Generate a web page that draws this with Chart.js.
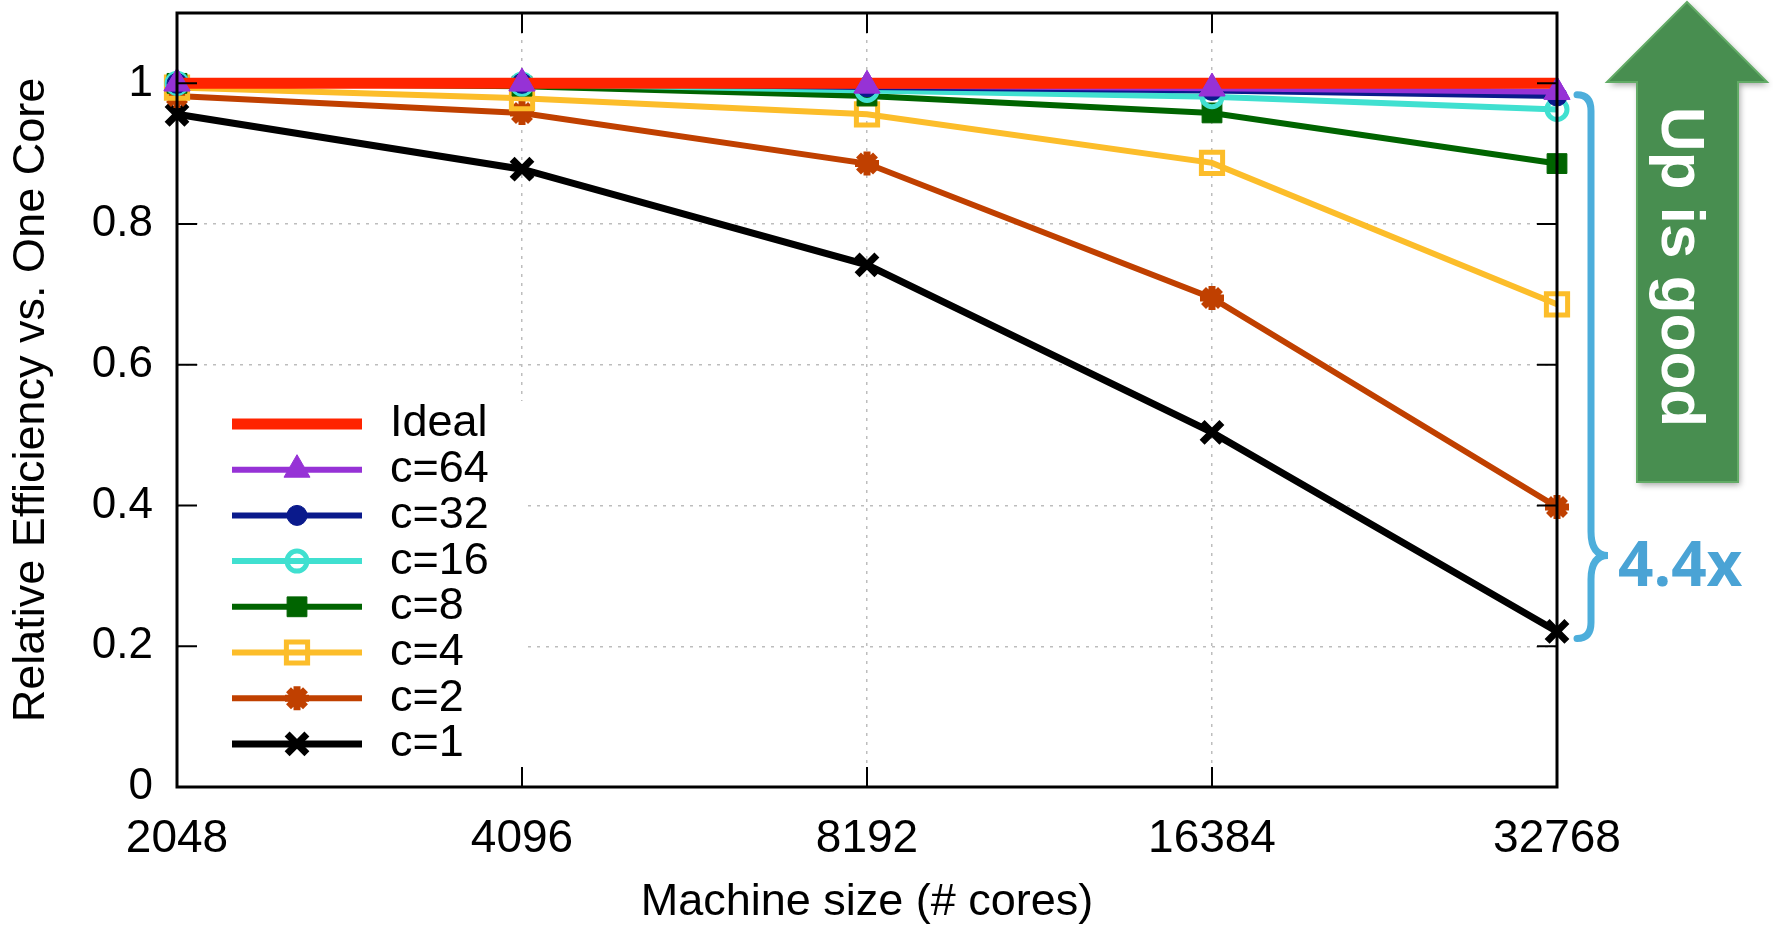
<!DOCTYPE html>
<html lang="en">
<head>
<meta charset="UTF-8">
<title>Relative Efficiency</title>
<script src="https://cdn.jsdelivr.net/npm/chart.js"></script>
<style>
  body { margin: 0; background: #fff; }
  canvas { display: block; }
</style>
</head>
<body>
<canvas id="grafico" width="1773" height="926"></canvas>
<script>
// values
var machineSizes = ['2048', '4096', '8192', '16384', '32768'];
var seriesNames = ['Ideal', 'c=64', 'c=32', 'c=16', 'c=8', 'c=4', 'c=2', 'c=1'];
var ideal = [1, 1, 1, 1, 1];
var c64 = [1, 1, 0.997, 0.993, 0.988];
var c32 = [1, 1, 0.995, 0.99, 0.982];
var c16 = [1, 0.999, 0.99, 0.981, 0.963];
var c8 = [1, 0.996, 0.982, 0.958, 0.886];
var c4 = [0.994, 0.979, 0.956, 0.887, 0.686];
var c2 = [0.982, 0.958, 0.886, 0.695, 0.398];
var c1 = [0.956, 0.878, 0.742, 0.504, 0.221];
var yTicks = [0, 0.2, 0.4, 0.6, 0.8, 1];
var yTickLabels = ['0', '0.2', '0.4', '0.6', '0.8', '1'];

var fonte = '"Liberation Sans", Arial, Helvetica, sans-serif';

function serie(nome, dados, cor, largura, estilo, raio, fundo, borda) {
  return {
    label: nome,
    data: dados,
    borderColor: cor,
    borderWidth: largura,
    pointStyle: estilo,
    pointRadius: raio,
    pointHoverRadius: raio,
    pointBackgroundColor: fundo,
    pointBorderColor: cor,
    pointBorderWidth: borda,
    tension: 0,
    clip: false
  };
}

var datasets = [
  serie(seriesNames[0], ideal, '#ff2400', 11, 'circle', 0, '#ff2400', 0),
  serie(seriesNames[1], c64, '#9632d6', 6, 'triangle', 15, '#9632d6', 1),
  serie(seriesNames[2], c32, '#0a1a8c', 6, 'circle', 10, '#0a1a8c', 1),
  serie(seriesNames[3], c16, '#40e0d0', 6, 'circle', 10, 'rgba(0,0,0,0)', 5),
  serie(seriesNames[4], c8, '#006400', 6, 'rect', 14, '#006400', 1),
  serie(seriesNames[5], c4, '#fcbd2a', 6, 'rect', 15, 'rgba(0,0,0,0)', 5),
  serie(seriesNames[6], c2, '#c04000', 6, 'star', 12, '#c04000', 7),
  serie(seriesNames[7], c1, '#000000', 7, 'crossRot', 14, '#000000', 7)
];

function desenharPonto(ctx, ds, x, y) {
  ctx.save();
  ctx.fillStyle = ds.pointBackgroundColor;
  ctx.strokeStyle = ds.pointBorderColor;
  ctx.lineWidth = ds.pointBorderWidth;
  Chart.helpers.drawPoint(ctx, {
    pointStyle: ds.pointStyle,
    radius: ds.pointRadius,
    rotation: 0,
    borderWidth: ds.pointBorderWidth
  }, x, y);
  ctx.restore();
}

var moldura = {
  id: 'moldura',
  beforeDatasetsDraw: function (chart) {
    var ctx = chart.ctx;
    var a = chart.chartArea;
    // legend box hides the grid behind it
    ctx.save();
    ctx.fillStyle = '#ffffff';
    ctx.fillRect(a.left + 2, 401, 526 - a.left, a.bottom - 403);
    ctx.restore();
  },
  afterDatasetsDraw: function (chart) {
    var ctx = chart.ctx;
    var a = chart.chartArea;
    var x = chart.scales.x;
    var y = chart.scales.y;

    // c=64 triangles sit on top of the red line
    chart.getDatasetMeta(1).data.forEach(function (p) { p.draw(ctx, a); });

    ctx.save();
    ctx.strokeStyle = '#000';
    ctx.lineWidth = 3;
    ctx.strokeRect(a.left, a.top, a.right - a.left, a.bottom - a.top);

    // inward ticks on all four sides
    ctx.lineWidth = 2;
    ctx.beginPath();
    for (var i = 0; i < yTicks.length; i++) {
      var py = y.getPixelForValue(yTicks[i]);
      ctx.moveTo(a.left, py); ctx.lineTo(a.left + 20, py);
      ctx.moveTo(a.right, py); ctx.lineTo(a.right - 20, py);
    }
    for (var j = 0; j < machineSizes.length; j++) {
      var px = x.getPixelForTick(j);
      ctx.moveTo(px, a.bottom); ctx.lineTo(px, a.bottom - 20);
      ctx.moveTo(px, a.top); ctx.lineTo(px, a.top + 20);
    }
    ctx.stroke();

    // legend
    chart.data.datasets.forEach(function (ds, k) {
      var ly = 424 + k * 45.7;
      ctx.strokeStyle = ds.borderColor;
      ctx.lineWidth = ds.borderWidth;
      ctx.beginPath();
      ctx.moveTo(232, ly);
      ctx.lineTo(362, ly);
      ctx.stroke();
      if (ds.pointRadius > 0) desenharPonto(ctx, ds, 297, ly);
      ctx.fillStyle = '#000';
      ctx.font = '45px ' + fonte;
      ctx.textAlign = 'left';
      ctx.textBaseline = 'middle';
      ctx.fillText(ds.label, 390, ly);
    });

    // brace and factor label
    var topo = y.getPixelForValue(c64[4]) + 3;
    var base = y.getPixelForValue(c1[4]) + 7;
    var bx = a.right + 34;
    var pontaY = base - 83;
    ctx.strokeStyle = '#4daedb';
    ctx.lineWidth = 7;
    ctx.lineCap = 'round';
    ctx.beginPath();
    ctx.moveTo(bx - 14, topo);
    ctx.quadraticCurveTo(bx, topo, bx, topo + 16);
    ctx.lineTo(bx, pontaY - 24);
    ctx.quadraticCurveTo(bx, pontaY, bx + 17, pontaY);
    ctx.quadraticCurveTo(bx, pontaY, bx, pontaY + 24);
    ctx.lineTo(bx, base - 16);
    ctx.quadraticCurveTo(bx, base, bx - 14, base);
    ctx.stroke();

    ctx.fillStyle = '#4aa3d5';
    ctx.font = 'bold 62px "Open Sans", ' + fonte;
    ctx.textAlign = 'left';
    ctx.textBaseline = 'alphabetic';
    ctx.fillText('4.4x', a.right + 61, pontaY + 31);

    // green arrow
    var cx = a.right + 130;
    ctx.shadowColor = 'rgba(0,0,0,0.35)';
    ctx.shadowBlur = 6;
    ctx.shadowOffsetX = 2;
    ctx.shadowOffsetY = 3;
    ctx.fillStyle = '#488e50';
    ctx.beginPath();
    ctx.moveTo(cx, 2);
    ctx.lineTo(cx + 80, 82);
    ctx.lineTo(cx + 51, 82);
    ctx.lineTo(cx + 51, 482);
    ctx.lineTo(cx - 50, 482);
    ctx.lineTo(cx - 50, 82);
    ctx.lineTo(cx - 80, 82);
    ctx.closePath();
    ctx.fill();
    ctx.shadowColor = 'rgba(0,0,0,0)';
    ctx.strokeStyle = '#62ab66';
    ctx.lineWidth = 2;
    ctx.stroke();

    ctx.translate(cx - 25, 267);
    ctx.rotate(Math.PI / 2);
    ctx.fillStyle = '#ffffff';
    ctx.font = 'bold 62px ' + fonte;
    ctx.textAlign = 'center';
    ctx.textBaseline = 'alphabetic';
    ctx.fillText('Up is good', 0, 0);
    ctx.restore();
  }
};

var graficoEficiencia = document.getElementById('grafico');

new Chart(graficoEficiencia, {
  type: 'line',
  data: {
    labels: machineSizes,
    datasets: datasets
  },
  options: {
    responsive: false,
    animation: false,
    devicePixelRatio: 1,
    layout: { autoPadding: false, padding: { top: 13, right: 216, bottom: 0, left: 0 } },
    plugins: {
      legend: { display: false },
      tooltip: { enabled: false }
    },
    scales: {
      x: {
        type: 'category',
        offset: false,
        grid: { color: '#bdbdbd', lineWidth: 1.5, drawTicks: false, offset: false },
        border: { display: false, dash: [3, 6] },
        ticks: {
          color: '#000',
          font: { family: fonte, size: 46 },
          padding: 25,
          autoSkip: false,
          maxRotation: 0
        },
        title: {
          display: true,
          text: 'Machine size (# cores)',
          color: '#000',
          font: { family: fonte, size: 45 },
          padding: { top: 0, bottom: -4 }
        },
        afterFit: function (scale) { scale.height = 139; }
      },
      y: {
        min: 0,
        max: 1.1,
        grid: { color: '#bdbdbd', lineWidth: 1.5, drawTicks: false },
        border: { display: false, dash: [3, 6] },
        afterBuildTicks: function (scale) {
          scale.ticks = yTicks.map(function (v) { return { value: v }; });
        },
        ticks: {
          color: '#000',
          font: { family: fonte, size: 44 },
          padding: 24,
          callback: function (value, index) { return yTickLabels[index]; }
        },
        title: {
          display: true,
          text: 'Relative Efficiency vs. One Core',
          color: '#000',
          font: { family: fonte, size: 45 },
          padding: { top: 5, bottom: 0 }
        },
        afterFit: function (scale) {
          scale.width = 177;
          scale.paddingTop = 0;
          scale.paddingBottom = 0;
        }
      }
    }
  },
  plugins: [moldura]
});
</script>
</body>
</html>
